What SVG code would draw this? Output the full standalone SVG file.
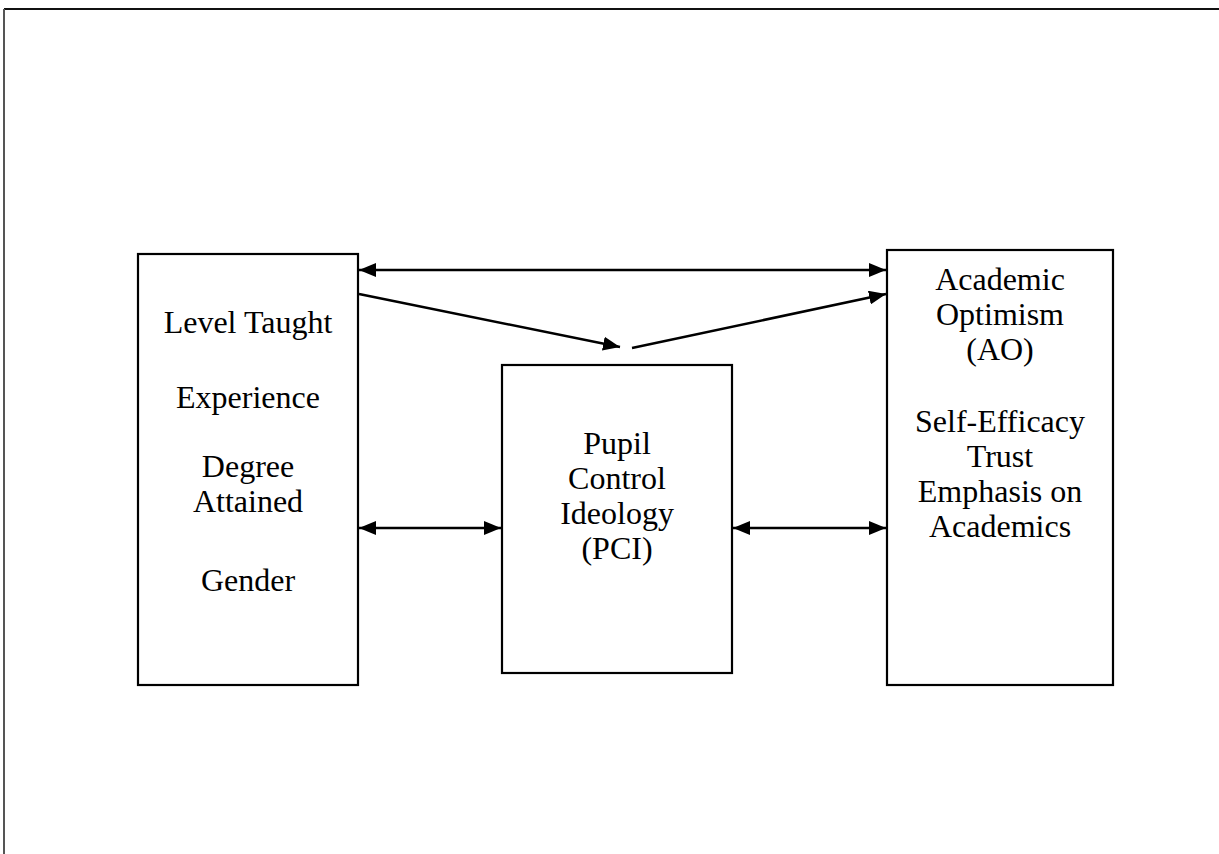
<svg xmlns="http://www.w3.org/2000/svg" width="1219" height="854" viewBox="0 0 1219 854">
<style>
.box{fill:#fff;stroke:#000;stroke-width:2.2}
.t{font-family:"Liberation Serif","Times New Roman",serif;font-size:32px;fill:#000;text-anchor:middle}
.c{stroke:#000;stroke-width:2.5;fill:none}
</style>
<defs>
<marker id="ah" viewBox="0 0 17 14" refX="17" refY="7" markerWidth="17" markerHeight="14" markerUnits="userSpaceOnUse" orient="auto-start-reverse">
<path d="M0,0 L17,7 L0,14 Z" fill="#000"/>
</marker>
</defs>
<rect width="1219" height="854" fill="#fff"/>
<g id="frame">
<line x1="4" y1="9" x2="1219" y2="9" stroke="#111" stroke-width="2"/>
<line x1="4" y1="9" x2="4" y2="854" stroke="#555" stroke-width="2"/>
</g>
<g id="demographics">
<rect class="box" x="138" y="254" width="220" height="431"/>
<text class="t" x="248" y="333">Level Taught</text>
<text class="t" x="248" y="408">Experience</text>
<text class="t" x="248" y="477">Degree</text>
<text class="t" x="248" y="512">Attained</text>
<text class="t" x="248" y="591">Gender</text>
</g>
<g id="pci">
<rect class="box" x="502" y="365" width="230" height="308"/>
<text class="t" x="617" y="454">Pupil</text>
<text class="t" x="617" y="489">Control</text>
<text class="t" x="617" y="524">Ideology</text>
<text class="t" x="617" y="559">(PCI)</text>
</g>
<g id="ao">
<rect class="box" x="887" y="250" width="226" height="435"/>
<text class="t" x="1000" y="290">Academic</text>
<text class="t" x="1000" y="325">Optimism</text>
<text class="t" x="1000" y="360">(AO)</text>
<text class="t" x="1000" y="432">Self-Efficacy</text>
<text class="t" x="1000" y="467">Trust</text>
<text class="t" x="1000" y="502">Emphasis on</text>
<text class="t" x="1000" y="537">Academics</text>
</g>
<g id="connectors">
<line class="c" x1="359" y1="270" x2="886" y2="270" marker-start="url(#ah)" marker-end="url(#ah)"/>
<line class="c" x1="359" y1="294" x2="620" y2="347" marker-end="url(#ah)"/>
<line class="c" x1="632" y1="348" x2="886" y2="294" marker-end="url(#ah)"/>
<line class="c" x1="359" y1="528" x2="501" y2="528" marker-start="url(#ah)" marker-end="url(#ah)"/>
<line class="c" x1="733" y1="528" x2="886" y2="528" marker-start="url(#ah)" marker-end="url(#ah)"/>
</g>
</svg>
